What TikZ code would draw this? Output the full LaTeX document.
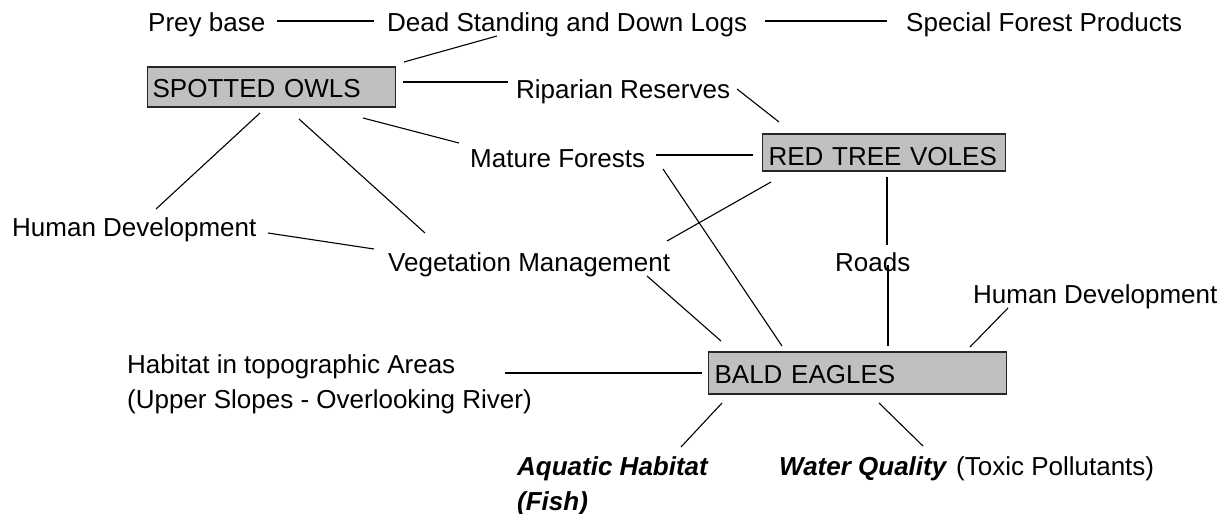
\documentclass[tikz,border=0pt]{standalone}
\usepackage{fontspec}
\setmainfont{Liberation Sans}
\definecolor{boxgray}{HTML}{C0C0C0}
\begin{document}
\begin{tikzpicture}[x=1pt,y=-1pt,
  every node/.style={font=\fontsize{26}{35}\selectfont},
  lbl/.style={anchor=base west,inner sep=0pt},
  box/.style={anchor=base west,draw=black!85,line width=1.2pt,fill=boxgray,
    inner xsep=5pt,inner ysep=0pt,align=left},
  link/.style={line width=1.1pt,black}]
\useasboundingbox (0,0) rectangle (1224,514);

% boxes
\node[box,text width=238pt,text height=30pt,text depth=10pt] (owls) at (147,97) {SPOTTED OWLS};
\node[box,text width=231pt,text height=31pt,text depth=6pt,inner xsep=6pt] (voles) at (762,165) {RED TREE VOLES};
\node[box,text width=286pt,text height=31pt,text depth=11pt,inner xsep=6pt] (eagles) at (708,383) {BALD EAGLES};

% labels (multi-line labels: base = baseline of the last line)
\node[lbl] (prey) at (148,31) {Prey base};
\node[lbl] (logs) at (387,31) {Dead Standing and Down Logs};
\node[lbl] (special) at (906,31) {Special Forest Products};
\node[lbl] (riparian) at (516,98) {Riparian Reserves};
\node[lbl] (mature) at (470,167) {Mature Forests};
\node[lbl] (humanL) at (12,236) {Human Development};
\node[lbl] (veg) at (388,271) {Vegetation Management};
\node[lbl] (roads) at (835,271) {Roads};
\node[lbl] (humanR) at (973,303) {Human Development};
\node[lbl,align=left] (habitat) at (127,408) {Habitat in topographic Areas\\(Upper Slopes - Overlooking River)};
\node[lbl,align=left] (aquatic) at (517,510) {\bfseries\itshape Aquatic Habitat\\\bfseries\itshape (Fish)};
\node[lbl] (water) at (779,475) {\bfseries\itshape Water Quality};
\node[lbl] (toxic) at (956,475) {(Toxic Pollutants)};

% connector end points
\coordinate (prey-e) at (277,21);   \coordinate (logs-w) at (374,21);
\coordinate (logs-e) at (765,21);   \coordinate (special-w) at (887,21);
\coordinate (logs-s) at (497,36);   \coordinate (owls-ne) at (404,62);
\coordinate (owls-e) at (403,82);   \coordinate (riparian-w) at (508,82);
\coordinate (riparian-e) at (737,89); \coordinate (voles-n) at (779,122);
\coordinate (owls-se) at (363,118); \coordinate (mature-w) at (459,143);
\coordinate (mature-e) at (656,155); \coordinate (voles-w) at (753,155);
\coordinate (owls-s1) at (260,113); \coordinate (humanL-n) at (156,209);
\coordinate (owls-s2) at (299,119); \coordinate (veg-n) at (425,233);
\coordinate (humanL-e) at (268,233); \coordinate (veg-w) at (374,249);
\coordinate (veg-ne) at (667,241);  \coordinate (voles-sw) at (771,182);
\coordinate (mature-se) at (663,169); \coordinate (eagles-n1) at (782,346);
\coordinate (veg-se) at (647,276);  \coordinate (eagles-nw) at (721,341);
\coordinate (voles-s) at (887,177); \coordinate (roads-n) at (887,245);
\coordinate (roads-s) at (888,265); \coordinate (eagles-n2) at (888,346);
\coordinate (humanR-s) at (1008,308); \coordinate (eagles-ne) at (970,347);
\coordinate (habitat-e) at (505,373); \coordinate (eagles-w) at (702,373);
\coordinate (eagles-sw) at (722,403); \coordinate (aquatic-n) at (681,447);
\coordinate (eagles-s) at (879,403); \coordinate (water-n) at (923,446);

% connectors
\draw[link] (prey-e) -- (logs-w);
\draw[link] (logs-e) -- (special-w);
\draw[link] (logs-s) -- (owls-ne);
\draw[link] (owls-e) -- (riparian-w);
\draw[link] (riparian-e) -- (voles-n);
\draw[link] (owls-se) -- (mature-w);
\draw[link] (mature-e) -- (voles-w);
\draw[link] (owls-s1) -- (humanL-n);
\draw[link] (owls-s2) -- (veg-n);
\draw[link] (humanL-e) -- (veg-w);
\draw[link] (veg-ne) -- (voles-sw);
\draw[link] (mature-se) -- (eagles-n1);
\draw[link] (veg-se) -- (eagles-nw);
\draw[link] (voles-s) -- (roads-n);
\draw[link] (roads-s) -- (eagles-n2);
\draw[link] (humanR-s) -- (eagles-ne);
\draw[link] (habitat-e) -- (eagles-w);
\draw[link] (eagles-sw) -- (aquatic-n);
\draw[link] (eagles-s) -- (water-n);
\end{tikzpicture}
\end{document}
